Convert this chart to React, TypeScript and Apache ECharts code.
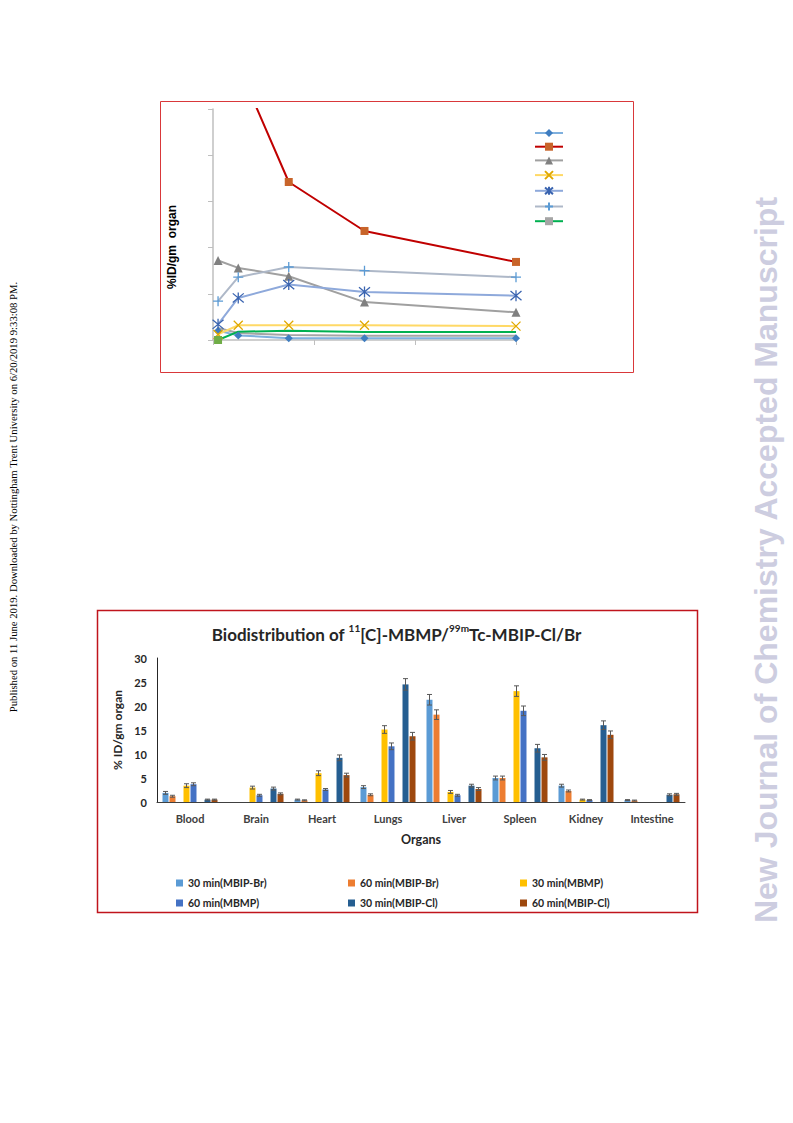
import React, { useEffect, useRef } from "react";
import * as echarts from "echarts";

// ---------- Line chart (top) ----------
const lineTimes = [3, 15, 45, 90, 180];
const lineS1 = [1.0, 0.5, 0.2, 0.2, 0.2];
const lineS2 = [38, 29.7, 17.1, 11.8, 8.45];
const lineS3 = [8.6, 7.8, 6.9, 4.1, 3.0];
const lineS4 = [0.6, 1.6, 1.6, 1.6, 1.5];
const lineS5 = [1.7, 4.55, 6.0, 5.2, 4.8];
const lineS6 = [4.2, 6.8, 7.9, 7.5, 6.8];
const lineS7 = [0, 0.9, 1.0, 0.87, 0.87];
const lineS8 = [1.3, 0.75, 0.55, 0.45, 0.45];
const lineNames = ["S1", "S2", "S3", "S4", "S5", "S6", "S7"];

// ---------- Bar chart (bottom) ----------
const organs = ["Blood", "Brain", "Heart", "Lungs", "Liver", "Spleen", "Kidney", "Intestine"];
const barNames = [
  "30 min(MBIP-Br)",
  "60 min(MBIP-Br)",
  "30 min(MBMP)",
  "60 min(MBMP)",
  "30 min(MBIP-Cl)",
  "60 min(MBIP-Cl)",
];
const br30 = [1.9, null, 0.5, 3.1, 21.3, 5.0, 3.4, 0.4];
const br60 = [1.2, null, 0.35, 1.5, 18.2, 5.0, 2.3, 0.3];
const mbmp30 = [3.4, 3.0, 6.0, 15.1, 2.1, 23.1, 0.5, null];
const mbmp60 = [3.7, 1.4, 2.6, 11.6, 1.4, 19.0, 0.4, null];
const cl30 = [0.5, 2.8, 9.2, 24.5, 3.4, 11.2, 16.0, 1.5];
const cl60 = [0.5, 1.7, 5.6, 13.7, 2.7, 9.3, 14.0, 1.6];
const br30Err = [0.3, null, 0.1, 0.3, 1.1, 0.4, 0.3, 0.1];
const br60Err = [0.2, null, 0.1, 0.2, 1.0, 0.4, 0.2, 0.1];
const mbmp30Err = [0.4, 0.3, 0.5, 0.8, 0.3, 1.1, 0.1, null];
const mbmp60Err = [0.3, 0.2, 0.2, 0.7, 0.2, 1.0, 0.1, null];
const cl30Err = [0.1, 0.3, 0.6, 1.2, 0.3, 0.8, 0.9, 0.2];
const cl60Err = [0.1, 0.2, 0.4, 0.8, 0.3, 0.6, 0.8, 0.2];
const yTicks = [0, 5, 10, 15, 20, 25, 30];

const BAR_W = 6;
const BAR_GAP = 1;

const X_SYM = "path://M0,0L10,10M10,0L0,10";
const AST_SYM = "path://M0,0L10,10M10,0L0,10M5,-1L5,11";
const PLUS_SYM = "path://M5,0L5,10M0,5L10,5";

function lineSeries(name: string, data: number[], lineColor: string, symbol: string, size: number, markerColor: string, strokeOnly = false) {
  return {
    type: "line",
    name,
    xAxisIndex: 0,
    yAxisIndex: 0,
    data: lineTimes.map((t, i) => [t, data[i]]),
    symbol,
    symbolSize: size,
    showSymbol: symbol !== "none",
    lineStyle: { color: lineColor, width: 2 },
    itemStyle: strokeOnly
      ? { color: markerColor, borderColor: markerColor, borderWidth: 1.3 }
      : { color: markerColor, borderColor: markerColor, borderWidth: 0 },
    z: 3,
  };
}

function barSeries(name: string, data: (number | null)[], color: string) {
  return {
    type: "bar",
    name,
    xAxisIndex: 1,
    yAxisIndex: 1,
    data: data.map((v) => (v == null ? "-" : v)),
    barWidth: BAR_W,
    barGap: ((BAR_GAP / BAR_W) * 100).toFixed(1) + "%",
    barCategoryGap: "0%",
    itemStyle: { color },
  };
}

function errSeries(vals: (number | null)[], errs: (number | null)[], slot: number) {
  const data: number[][] = [];
  vals.forEach((v, i) => {
    if (v != null && errs[i] != null) data.push([i, v, errs[i] as number]);
  });
  const off = (slot - 3.5) * (BAR_W + BAR_GAP);
  return {
    type: "custom",
    xAxisIndex: 1,
    yAxisIndex: 1,
    data,
    z: 5,
    silent: true,
    encode: { x: 0, y: 1 },
    renderItem: (params: any, api: any) => {
      const c = api.value(0);
      const v = api.value(1);
      const e = api.value(2);
      const hi = api.coord([c, v + e]);
      const lo = api.coord([c, v - e]);
      const x = hi[0] + off;
      const st = { stroke: "#595959", lineWidth: 1 };
      return {
        type: "group",
        children: [
          { type: "line", shape: { x1: x, y1: hi[1], x2: x, y2: lo[1] }, style: st },
          { type: "line", shape: { x1: x - 2.5, y1: hi[1], x2: x + 2.5, y2: hi[1] }, style: st },
          { type: "line", shape: { x1: x - 2.5, y1: lo[1], x2: x + 2.5, y2: lo[1] }, style: st },
        ],
      };
    },
  };
}

export default function App() {
  const ref = useRef<HTMLDivElement>(null);
  useEffect(() => {
    if (!ref.current) return;
    const chart = echarts.init(ref.current, null, { renderer: "svg" });
    const lab = { fontFamily: "Lato", fontWeight: "bold", color: "#404040" };
    const legendText = { ...lab, fontSize: 10.5, color: "#262626", width: 150, lineHeight: 12 };
    const option: any = {
      animation: false,
      backgroundColor: "#ffffff",
      title: {
        left: "center",
        top: 618,
        text: "{a|Biodistribution of }{s|11}{a|[C]-MBMP/}{s|99m}{a|Tc-MBIP-Cl/Br}",
        textStyle: {
          rich: {
            a: { fontFamily: "Lato", fontWeight: "bold", fontSize: 17, color: "#262626", lineHeight: 22 },
            s: { fontFamily: "Lato", fontWeight: "bold", fontSize: 10, color: "#262626", lineHeight: 16, verticalAlign: "top" },
          },
        },
      },
      grid: [
        { left: 213, top: 109, width: 303, height: 231, containLabel: false },
        { left: 157, top: 658, width: 528, height: 144, containLabel: false },
      ],
      xAxis: [
        {
          type: "value",
          gridIndex: 0,
          min: 0,
          max: 180,
          interval: 60,
          axisLine: { show: true, lineStyle: { color: "#BFBFBF", width: 1.5 } },
          axisTick: { show: true, length: 5, lineStyle: { color: "#BFBFBF" } },
          axisLabel: { show: false },
          splitLine: { show: false },
        },
        {
          type: "category",
          gridIndex: 1,
          data: organs,
          axisLine: { show: true, lineStyle: { color: "#404040", width: 1 } },
          axisTick: { show: false },
          axisLabel: { ...lab, fontSize: 11, margin: 11 },
          name: "Organs",
          nameLocation: "middle",
          nameGap: 31,
          nameTextStyle: { ...lab, fontSize: 12.5, color: "#262626" },
        },
      ],
      yAxis: [
        {
          type: "value",
          gridIndex: 0,
          min: 0,
          max: 25,
          interval: 5,
          axisLine: { show: true, lineStyle: { color: "#BFBFBF", width: 1.5 } },
          axisTick: { show: true, length: 5, lineStyle: { color: "#BFBFBF" } },
          axisLabel: { show: false },
          splitLine: { show: false },
        },
        {
          type: "value",
          gridIndex: 1,
          min: yTicks[0],
          max: yTicks[yTicks.length - 1],
          interval: 5,
          axisLine: { show: true, lineStyle: { color: "#262626", width: 1 } },
          axisTick: { show: false },
          axisLabel: { ...lab, fontSize: 11, margin: 10, color: "#262626" },
          splitLine: { show: false },
          name: "% ID/gm organ",
          nameLocation: "middle",
          nameRotate: 90,
          nameGap: 26,
          nameTextStyle: { ...lab, fontSize: 12, color: "#262626" },
        },
      ],
      legend: [
        {
          data: lineNames,
          orient: "vertical",
          left: 529,
          top: 124,
          itemWidth: 28,
          itemHeight: 10,
          itemGap: 5.7,
          formatter: () => "",
          textStyle: { fontSize: 8, lineHeight: 10 },
          selectedMode: false,
        },
        {
          data: barNames.slice(0, 3),
          left: 171,
          top: 872,
          icon: "rect",
          itemWidth: 7,
          itemHeight: 7,
          itemGap: 10,
          textStyle: legendText,
          selectedMode: false,
        },
        {
          data: barNames.slice(3, 6),
          left: 171,
          top: 892,
          icon: "rect",
          itemWidth: 7,
          itemHeight: 7,
          itemGap: 10,
          textStyle: legendText,
          selectedMode: false,
        },
      ],
      series: [
        lineSeries("S1", lineS1, "#7FB0DE", "diamond", 8, "#3F7DC0"),
        lineSeries("S2", lineS2, "#C00000", "rect", 8, "#C8642A"),
        lineSeries("S3", lineS3, "#A0A0A0", "triangle", 9, "#808080"),
        lineSeries("S4", lineS4, "#FFD966", X_SYM, 9, "#E0A800", true),
        lineSeries("S5", lineS5, "#8EA9DB", AST_SYM, 11, "#3A64B0", true),
        lineSeries("S6", lineS6, "#AEB8C8", PLUS_SYM, 10, "#5B9BD5", true),
        {
          ...lineSeries("S7", lineS7, "#00B050", "rect", 7, "#A5A5A5"),
          data: lineTimes.map((t, i) =>
            i === 0
              ? { value: [t, lineS7[i]], symbol: "rect", symbolSize: 8, itemStyle: { color: "#70AD47" } }
              : { value: [t, lineS7[i]], symbol: "none" }
          ),
        },
        { ...lineSeries("S8", lineS8, "#A5A5A5", "none", 0, "#A5A5A5"), z: 2 },
        barSeries(barNames[0], br30, "#5B9BD5"),
        barSeries(barNames[1], br60, "#ED7D31"),
        barSeries("gapA", organs.map(() => null), "transparent"),
        barSeries(barNames[2], mbmp30, "#FFC000"),
        barSeries(barNames[3], mbmp60, "#4472C4"),
        barSeries("gapB", organs.map(() => null), "transparent"),
        barSeries(barNames[4], cl30, "#255E91"),
        barSeries(barNames[5], cl60, "#9E480E"),
        errSeries(br30, br30Err, 0),
        errSeries(br60, br60Err, 1),
        errSeries(mbmp30, mbmp30Err, 3),
        errSeries(mbmp60, mbmp60Err, 4),
        errSeries(cl30, cl30Err, 6),
        errSeries(cl60, cl60Err, 7),
      ],
      graphic: [
        {
          type: "rect",
          shape: { x: 160.5, y: 101.5, width: 473, height: 271 },
          style: { fill: "none", stroke: "#D9383A", lineWidth: 1 },
          silent: true,
        },
        {
          type: "rect",
          shape: { x: 97.5, y: 610.5, width: 600, height: 302 },
          style: { fill: "none", stroke: "#C0141C", lineWidth: 1.5 },
          silent: true,
        },
        {
          type: "text",
          x: 172,
          y: 247,
          rotation: Math.PI / 2,
          style: {
            text: "%ID/gm  organ",
            font: 'bold 12px "Liberation Sans"',
            fill: "#000000",
            textAlign: "center",
            textVerticalAlign: "middle",
          },
          silent: true,
        },
        {
          type: "text",
          x: 766,
          y: 560,
          rotation: Math.PI / 2,
          style: {
            text: "New Journal of Chemistry Accepted Manuscript",
            font: 'bold 32px "Liberation Sans"',
            fill: "#CDCDE0",
            textAlign: "center",
            textVerticalAlign: "middle",
          },
          silent: true,
        },
        {
          type: "text",
          x: 13,
          y: 497,
          rotation: Math.PI / 2,
          style: {
            text: "Published on 11 June 2019. Downloaded by Nottingham Trent University on 6/20/2019 9:33:08 PM.",
            font: '10.7px "Liberation Serif"',
            fill: "#000000",
            textAlign: "center",
            textVerticalAlign: "middle",
          },
          silent: true,
        },
      ],
    };
    chart.setOption(option);
    return () => chart.dispose();
  }, []);
  return (
    <div
      ref={ref}
      style={{ position: "absolute", left: 0, top: 0, width: 793, height: 1123, background: "#fff" }}
    />
  );
}
